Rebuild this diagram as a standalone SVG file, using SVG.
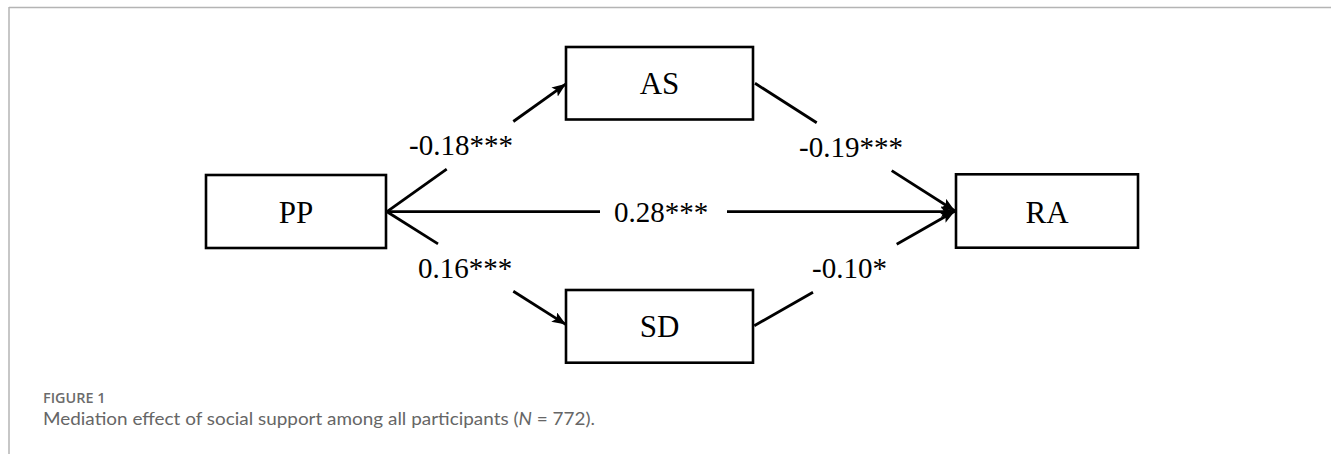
<svg xmlns="http://www.w3.org/2000/svg" width="1331" height="454" viewBox="0 0 1331 454">
  <style>
    .box { fill: #ffffff; stroke: #000000; stroke-width: 2.6; }
    .lbl { font-family: "Liberation Serif", "Times New Roman", serif; font-size: 31px; fill: #000000; text-anchor: middle; }
    .coef { font-family: "Liberation Serif", "Times New Roman", serif; font-size: 29px; fill: #000000; }
    .edge { stroke: #000000; stroke-width: 2.8; fill: none; }
    .cap1 { font-family: "Open Sans", "Liberation Sans", sans-serif; font-size: 14px; font-weight: 600; fill: #6b6b6b; }
    .cap2 { font-family: "Lato", "Open Sans", sans-serif; font-size: 17.5px; fill: #666666; }
  </style>
  <defs>
    <marker id="arrow" markerUnits="userSpaceOnUse" markerWidth="16" markerHeight="12" refX="14" refY="5.5" orient="auto">
      <path d="M0,0 L14,5.5 L0,11 L3,5.5 z" fill="#000000"/>
    </marker>
  </defs>
  <rect width="1331" height="454" fill="#ffffff"/>
  <g id="frame">
    <line x1="9" y1="7.5" x2="1331" y2="7.5" stroke="#b4b4b4" stroke-width="1.5"/>
    <line x1="9" y1="7" x2="9" y2="454" stroke="#b4b4b4" stroke-width="1.5"/>
  </g>
  <g id="connectors">
    <!-- PP -> AS -->
    <line class="edge" x1="387" y1="211.7" x2="446.7" y2="169.1"/>
    <line class="edge" x1="513.3" y1="121.5" x2="566" y2="83.8" marker-end="url(#arrow)"/>
    <!-- PP -> SD -->
    <line class="edge" x1="387" y1="211.7" x2="438" y2="243.9"/>
    <line class="edge" x1="513.3" y1="291.3" x2="566" y2="324.6" marker-end="url(#arrow)"/>
    <!-- PP -> RA -->
    <line class="edge" x1="387" y1="211.7" x2="600" y2="211.7"/>
    <line class="edge" x1="727" y1="211.7" x2="955" y2="211.7" marker-end="url(#arrow)"/>
    <!-- AS -> RA -->
    <line class="edge" x1="755" y1="83.3" x2="816.7" y2="122.7"/>
    <line class="edge" x1="891.7" y1="170.6" x2="955" y2="211" marker-end="url(#arrow)"/>
    <!-- SD -> RA -->
    <line class="edge" x1="754.3" y1="325.7" x2="813" y2="292.2"/>
    <line class="edge" x1="896.7" y1="244.3" x2="955" y2="211" marker-end="url(#arrow)"/>
  </g>
  <g id="coefficients">
    <text class="coef" x="409" y="155">-0.18***</text>
    <text class="coef" x="418" y="278">0.16***</text>
    <text class="coef" x="614" y="221.7">0.28***</text>
    <text class="coef" x="799" y="156.7">-0.19***</text>
    <text class="coef" x="812" y="277.7">-0.10*</text>
  </g>
  <g id="node-PP">
    <rect class="box" x="206" y="175" width="180" height="73"/>
    <text class="lbl" x="296" y="222.7">PP</text>
  </g>
  <g id="node-AS">
    <rect class="box" x="566" y="47" width="187" height="72.5"/>
    <text class="lbl" x="659.5" y="94.3">AS</text>
  </g>
  <g id="node-SD">
    <rect class="box" x="566" y="290" width="187" height="72.7"/>
    <text class="lbl" x="659.5" y="337.3">SD</text>
  </g>
  <g id="node-RA">
    <rect class="box" x="956" y="174.3" width="182" height="73.4"/>
    <text class="lbl" x="1047" y="222.7">RA</text>
  </g>
  <g id="caption">
    <text class="cap1" x="43" y="403.3" textLength="62.5" lengthAdjust="spacingAndGlyphs">FIGURE 1</text>
    <text class="cap2" x="43" y="425" textLength="552" lengthAdjust="spacingAndGlyphs">Mediation effect of social support among all participants (<tspan font-style="italic">N</tspan> = 772).</text>
  </g>
</svg>
